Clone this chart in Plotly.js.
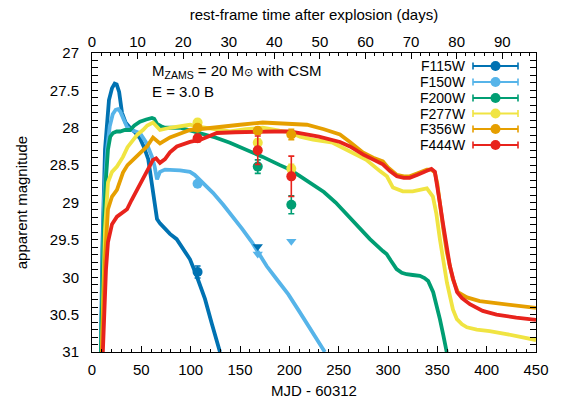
<!DOCTYPE html>
<html>
<head>
<meta charset="utf-8">
<script src="https://cdn.plot.ly/plotly-3.0.1.min.js"></script>
<style>html,body{margin:0;padding:0;background:#fff;}#chart{width:563px;height:406px;}</style>
</head>
<body>
<div id="chart"></div>
<script>
// ---------- data ----------
const filters = ["F115W", "F150W", "F200W", "F277W", "F356W", "F444W"];
const colors  = ["#0072B2", "#56B4E9", "#009E73", "#F0E442", "#E69F00", "#E8231C"];

// model light curves (MJD - 60312, apparent magnitude)
const f115w_t = [9, 10.5, 13.2, 17.2, 20.3, 23, 25, 27.5, 30.4, 34, 38.5, 43.6, 48.6, 52.7, 57, 62, 65.9, 68.9, 74, 79, 85.8, 92.2, 99.3, 106, 114.5, 121.6, 129.7];
const f115w_m = [31, 29.63, 28.29, 27.63, 27.47, 27.41, 27.42, 27.52, 27.8, 27.93, 28.0, 28.06, 28.14, 28.26, 28.42, 28.83, 29.22, 29.28, 29.36, 29.42, 29.49, 29.62, 29.76, 29.98, 30.29, 30.63, 31.0];

const f150w_t = [9, 10.5, 12.2, 15.2, 18, 21, 24, 26.3, 28.5, 30.5, 33, 35.5, 40, 48.6, 55, 60.8, 63.5, 65.9, 68.9, 74, 89.2, 99.3, 104, 108, 114.5, 122.6, 133, 142.9, 152, 162, 170, 177, 187.4, 199, 210.7, 222, 234, 236];
const f150w_m = [31, 29.9, 28.96, 28.29, 27.98, 27.82, 27.76, 27.75, 27.78, 27.84, 27.93, 27.99, 28.03, 28.07, 28.2, 28.39, 28.52, 28.69, 28.59, 28.56, 28.57, 28.59, 28.63, 28.68, 28.77, 28.87, 29.03, 29.19, 29.35, 29.53, 29.69, 29.85, 30.03, 30.23, 30.47, 30.7, 30.96, 31.0];

const f200w_t = [9, 10.5, 12.2, 14, 16.2, 18.5, 21.3, 25, 28.4, 33.4, 38.5, 43, 48.6, 55, 60.8, 63, 65.9, 70, 74, 89.2, 109.4, 125, 139.8, 156, 173, 190.5, 200.6, 210, 220.9, 235, 247, 258, 270, 281.7, 294.8, 298.6, 303, 308.7, 314, 318.8, 325, 332.3, 337, 340.7, 345.8, 349, 352.6, 356, 359.5];
const f200w_m = [31, 29.9, 29.23, 28.7, 28.29, 28.12, 28.07, 28.05, 28.05, 28.03, 28.03, 27.97, 27.92, 27.89, 27.87, 27.88, 27.95, 27.98, 28.0, 28.0, 28.07, 28.13, 28.2, 28.29, 28.39, 28.5, 28.56, 28.64, 28.73, 28.86, 29.0, 29.16, 29.32, 29.49, 29.65, 29.69, 29.78, 29.89, 29.94, 29.96, 29.97, 29.98, 30.01, 30.05, 30.2, 30.35, 30.56, 30.77, 31.0];

const f277w_t = [10, 11.5, 13.2, 16.2, 20.3, 25.3, 31.4, 36, 41.5, 46, 51.7, 56, 61.8, 65, 68.9, 79, 99.3, 109.4, 125, 139.8, 156, 173, 190, 200.6, 210.7, 224, 244, 258, 278, 291.8, 298.9, 305, 315, 325, 333, 339.4, 345.5, 349, 352.6, 356, 359.7, 365.8, 369.8, 375, 380, 390, 403, 420, 435, 450];
const f277w_m = [31, 30.0, 29.36, 28.73, 28.59, 28.52, 28.39, 28.26, 28.16, 28.09, 28.03, 27.97, 27.93, 27.98, 28.03, 28.0, 27.96, 27.99, 28.02, 28.05, 28.02, 28.0, 28.04, 28.06, 28.12, 28.16, 28.2, 28.3, 28.43, 28.58, 28.65, 28.8, 28.85, 28.85, 28.83, 28.81, 28.92, 29.15, 29.49, 29.8, 30.07, 30.43, 30.56, 30.63, 30.67, 30.7, 30.72, 30.76, 30.8, 30.84];

const f356w_t = [10, 11.5, 13.2, 16.2, 20.3, 25.3, 31.4, 36, 41.5, 48, 55.7, 61.8, 65, 68.9, 74, 79, 89, 99.3, 115, 132.7, 150, 173, 195, 217.8, 235, 251.3, 261.4, 274.6, 285, 294.8, 300, 309, 316, 322, 330, 339.4, 344, 347.5, 350, 352.6, 356, 359.7, 365.8, 370.8, 380, 393, 410, 430, 450];
const f356w_m = [31, 30.3, 29.76, 29.09, 28.92, 28.83, 28.6, 28.5, 28.43, 28.35, 28.25, 28.13, 28.17, 28.21, 28.17, 28.13, 28.08, 28.03, 28.01, 27.99, 27.96, 27.93, 27.94, 27.96, 28.02, 28.09, 28.19, 28.33, 28.4, 28.45, 28.53, 28.63, 28.65, 28.65, 28.61, 28.56, 28.56, 28.6, 28.75, 29.05, 29.35, 29.67, 30.03, 30.2, 30.27, 30.32, 30.35, 30.38, 30.41];

const f444w_t = [11, 12.5, 14.2, 16.2, 20.3, 25.3, 30, 35.5, 40, 45.6, 50, 55.7, 61.8, 65, 68.9, 74, 79, 86, 99.3, 110, 126.6, 145, 167.2, 185, 200.6, 210.7, 230, 251.3, 261.4, 275, 285, 294.8, 302, 309, 316, 322, 330, 340.4, 344, 347.5, 349.5, 352.5, 355.6, 359, 362.7, 366, 370, 375, 383, 396, 410, 430, 450];
const f444w_m = [31, 30.4, 29.89, 29.53, 29.29, 29.19, 29.15, 29.09, 28.97, 28.83, 28.7, 28.56, 28.43, 28.41, 28.47, 28.42, 28.33, 28.25, 28.19, 28.16, 28.07, 28.06, 28.05, 28.05, 28.05, 28.07, 28.12, 28.19, 28.25, 28.36, 28.43, 28.49, 28.58, 28.65, 28.67, 28.67, 28.63, 28.56, 28.55, 28.59, 28.79, 29.0, 29.27, 29.55, 29.85, 30.02, 30.2, 30.28, 30.36, 30.45, 30.5, 30.54, 30.57];

// observed photometry (detections with errors)
const f115w_obs_t = [107];            const f115w_obs_m = [29.93];               const f115w_obs_e = [0.08];
const f150w_obs_t = [107];            const f150w_obs_m = [28.75];               const f150w_obs_e = [0.03];
const f200w_obs_t = [168, 202];       const f200w_obs_m = [28.52, 29.03];        const f200w_obs_e = [0.09, 0.12];
const f277w_obs_t = [107, 168, 202];  const f277w_obs_m = [27.93, 28.2, 28.55];  const f277w_obs_e = [0.04, 0.05, 0.06];
const f356w_obs_t = [107, 168, 202];  const f356w_obs_m = [28.0, 28.04, 28.09];  const f356w_obs_e = [0.03, 0.04, 0.07];
const f444w_obs_t = [107, 168, 202];  const f444w_obs_m = [28.14, 28.3, 28.65];  const f444w_obs_e = [0.05, 0.19, 0.27];

// upper limits
const f115w_lim_t = [168];       const f115w_lim_m = [29.59];
const f150w_lim_t = [168, 202];  const f150w_lim_m = [29.69, 29.52];

// axis settings
const xTicksMJD = [0, 50, 100, 150, 200, 250, 300, 350, 400, 450];
const yTicks = [27, 27.5, 28, 28.5, 29, 29.5, 30, 30.5, 31];
const restTicks = [0, 10, 20, 30, 40, 50, 60, 70, 80, 90];
const timeDilation = 4.62; // (1+z)

// ---------- build ----------
const models = [
  [f115w_t, f115w_m], [f150w_t, f150w_m], [f200w_t, f200w_m],
  [f277w_t, f277w_m], [f356w_t, f356w_m], [f444w_t, f444w_m]
];
const obs = [
  [f115w_obs_t, f115w_obs_m, f115w_obs_e], [f150w_obs_t, f150w_obs_m, f150w_obs_e],
  [f200w_obs_t, f200w_obs_m, f200w_obs_e], [f277w_obs_t, f277w_obs_m, f277w_obs_e],
  [f356w_obs_t, f356w_obs_m, f356w_obs_e], [f444w_obs_t, f444w_obs_m, f444w_obs_e]
];
const lims = [[f115w_lim_t, f115w_lim_m, 0], [f150w_lim_t, f150w_lim_m, 1]];

const traces = [];
models.forEach((m, i) => {
  traces.push({x: m[0], y: m[1], type: 'scatter', mode: 'lines', name: filters[i],
    line: {color: colors[i], width: 3.8}, showlegend: false, hoverinfo: 'skip'});
});
lims.forEach(l => {
  traces.push({x: l[0], y: l[1], type: 'scatter', mode: 'markers', showlegend: false,
    marker: {symbol: 'triangle-down', size: 9, color: colors[l[2]]}});
});
obs.forEach((o, i) => {
  traces.push({x: o[0], y: o[1], type: 'scatter', mode: 'markers', showlegend: false,
    marker: {symbol: 'circle', size: 10, color: colors[i]},
    error_y: {type: 'data', array: o[2], visible: true, color: colors[i], thickness: 1.6, width: 3}});
});
// invisible trace for top axis
traces.push({x: [0, 450 / timeDilation], y: [31, 31], xaxis: 'x2', yaxis: 'y', mode: 'lines',
  line: {width: 0}, showlegend: false, hoverinfo: 'skip', opacity: 0});

// ---------- layout ----------
const W = 563, H = 406;
const L = 92, R = 536, T = 53, B = 352;
const px = v => (v - L) / (R - L);
const py = v => (B - v) / (B - T);

const shapes = [], annotations = [];
const legRowY = [66, 82, 98, 113.5, 129, 145];
filters.forEach((f, i) => {
  const y = legRowY[i];
  annotations.push({xref: 'paper', yref: 'paper', x: px(468), y: py(y), xanchor: 'right', yanchor: 'middle',
    text: f, showarrow: false, font: {family: 'Liberation Sans, Arial, sans-serif', size: 14, color: '#000'}});
  shapes.push({type: 'line', xref: 'paper', yref: 'paper', x0: px(473), x1: px(518), y0: py(y), y1: py(y),
    line: {color: colors[i], width: 1.8}});
  [473, 518].forEach(xx => shapes.push({type: 'line', xref: 'paper', yref: 'paper', x0: px(xx), x1: px(xx),
    y0: py(y - 3.5), y1: py(y + 3.5), line: {color: colors[i], width: 1.6}}));
  shapes.push({type: 'circle', xref: 'paper', yref: 'paper', xsizemode: 'pixel', ysizemode: 'pixel',
    xanchor: px(495.5), yanchor: py(y), x0: -5, x1: 5, y0: -5, y1: 5,
    fillcolor: colors[i], line: {width: 0}});
});
annotations.push({xref: 'paper', yref: 'paper', x: px(150), y: py(72), xanchor: 'left', yanchor: 'middle', showarrow: false,
  text: "M<sub>ZAMS</sub> = 20 M<span style='font-size:11px'>⊙</span> with CSM",
  font: {family: 'Liberation Sans, Arial, sans-serif', size: 15, color: '#000'}});
annotations.push({xref: 'paper', yref: 'paper', x: px(150), y: py(91), xanchor: 'left', yanchor: 'middle', showarrow: false,
  text: "E = 3.0 B",
  font: {family: 'Liberation Sans, Arial, sans-serif', size: 15, color: '#000'}});

const tickFont = {family: 'Liberation Sans, Arial, sans-serif', size: 15, color: '#000'};
const layout = {
  width: W, height: H,
  margin: {l: L, r: W - R, t: T, b: H - B, pad: 0},
  paper_bgcolor: '#fff', plot_bgcolor: '#fff',
  showlegend: false,
  font: tickFont,
  xaxis: {range: [0, 450], tickvals: xTicksMJD, ticktext: xTicksMJD.map(String),
    ticks: 'inside', ticklen: 6, tickcolor: '#000', tickwidth: 1,
    minor: {dtick: 10, ticks: 'inside', ticklen: 3, tickcolor: '#000', showgrid: false},
    showline: true, linecolor: '#000', linewidth: 1, mirror: true, showgrid: false, zeroline: false,
    tickfont: tickFont, ticklabelstandoff: 4,
    title: {text: 'MJD - 60312', font: tickFont, standoff: 8}},
  xaxis2: {overlaying: 'x', side: 'top', anchor: 'y', range: [0, 450 / timeDilation],
    tickvals: restTicks, ticktext: restTicks.map(String),
    ticks: 'inside', ticklen: 6, tickcolor: '#000', tickwidth: 1,
    minor: {dtick: 2, ticks: 'inside', ticklen: 3, tickcolor: '#000', showgrid: false},
    showline: false, showgrid: false, zeroline: false, tickfont: tickFont, ticklabelstandoff: 2,
    title: {text: 'rest-frame time after explosion (days)', font: tickFont, standoff: 8}},
  yaxis: {range: [31, 27], tickvals: yTicks, ticktext: yTicks.map(String),
    ticks: 'inside', ticklen: 6, tickcolor: '#000', tickwidth: 1,
    minor: {dtick: 0.1, ticks: 'inside', ticklen: 3, tickcolor: '#000', showgrid: false},
    showline: true, linecolor: '#000', linewidth: 1, mirror: 'allticks', showgrid: false, zeroline: false,
    tickfont: tickFont, ticklabelstandoff: 9,
    title: {text: 'apparent magnitude', font: tickFont, standoff: 18}},
  shapes: shapes,
  annotations: annotations
};

Plotly.newPlot('chart', traces, layout, {staticPlot: true, displayModeBar: false});
</script>
</body>
</html>
